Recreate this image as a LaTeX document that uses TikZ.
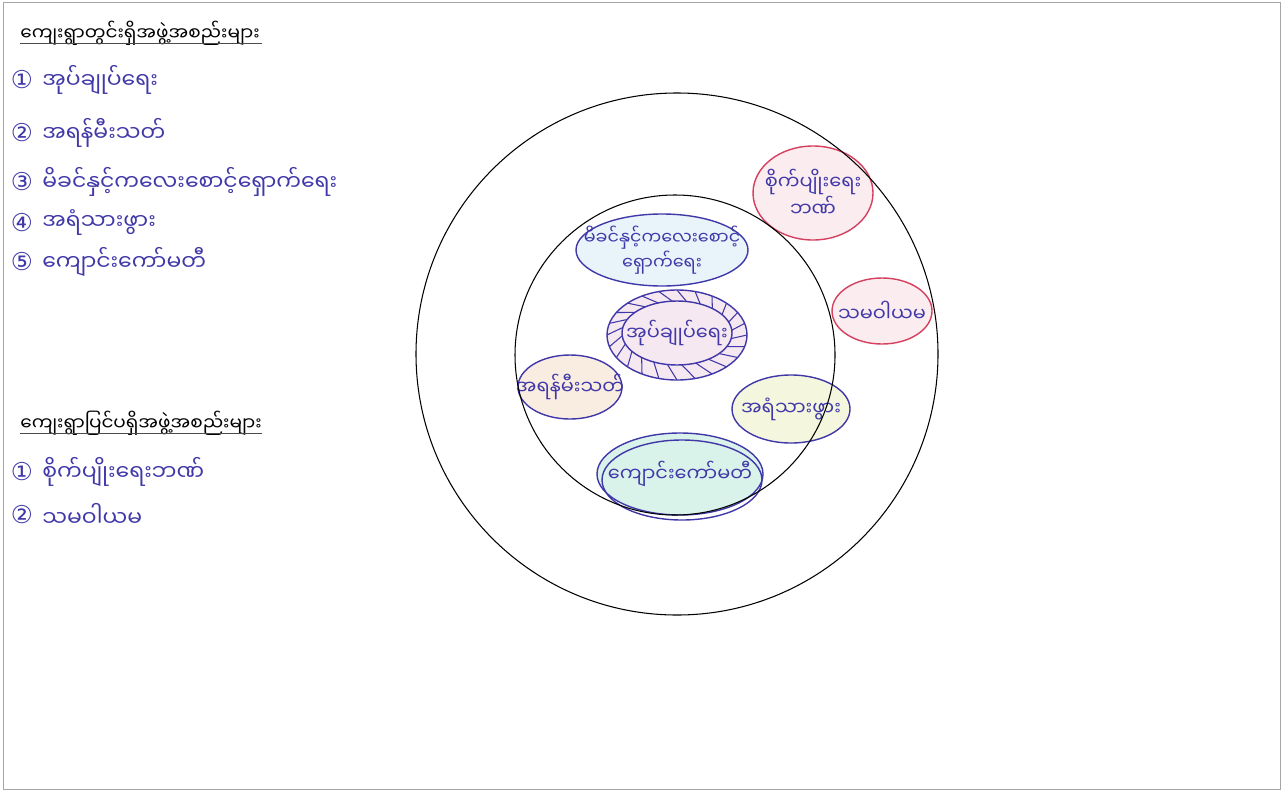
\documentclass[tikz,border=0pt]{standalone}
\usepackage{fontspec}
\newfontfamily\mmfont[Script=Myanmar]{Noto Sans Myanmar UI}
\newfontfamily\symfont{DejaVu Sans}
\usepackage{tikz}

\definecolor{ink}{HTML}{4038A8}
\definecolor{redink}{HTML}{D4405E}
\definecolor{motherfill}{HTML}{E8F4FA}
\definecolor{adminfill}{HTML}{F6E8F0}
\definecolor{firefill}{HTML}{F9ECE0}
\definecolor{midwifefill}{HTML}{F4F7DD}
\definecolor{schoolfill}{HTML}{D9F3EA}
\definecolor{bankfill}{HTML}{FBECEF}

\begin{document}
\begin{tikzpicture}[x=0.02cm, y=-0.02cm,
	head/.style={font=\mmfont\fontsize{10.5}{12}\selectfont, anchor=west, inner sep=0pt},
	item/.style={font=\mmfont\fontsize{12.5}{14}\selectfont, text=ink, anchor=west, inner sep=0pt},
	num/.style={font=\symfont\fontsize{14}{14}\selectfont, text=ink, inner sep=0pt},
	grp/.style={draw=ink, line width=0.8pt},
	outgrp/.style={draw=redink, line width=0.8pt},
	grplabel/.style={inner sep=0pt, align=center, text=ink, font=\mmfont\fontsize{11}{12.5}\selectfont},
	ring/.style={draw=black, line width=0.6pt}]
	\useasboundingbox (0,0) rectangle (1283,791);
	\draw[black!35] (3,2) rectangle (1280,789);
	% village groups, list
	\node[head] (inhead) at (20,33) {ကျေးရွာတွင်းရှိအဖွဲ့အစည်းများ};
	\draw[black!70] (inhead.south west) ++(0,-2) -- ++(242,0);
	\node[num] (n1) at (22,80) {①};
	\node[item] (i1) at (42,80) {အုပ်ချုပ်ရေး};
	\node[num] (n2) at (22,133) {②};
	\node[item] (i2) at (42,133) {အရန်မီးသတ်};
	\node[num] (n3) at (22,182) {③};
	\node[item] (i3) at (42,182) {မိခင်နှင့်ကလေးစောင့်ရှောက်ရေး};
	\node[num] (n4) at (22,223) {④};
	\node[item] (i4) at (42,223) {အရံသားဖွား};
	\node[num] (n5) at (22,262) {⑤};
	\node[item] (i5) at (42,262) {ကျောင်းကော်မတီ};
	% outside groups, list
	\node[head] (outhead) at (20,423) {ကျေးရွာပြင်ပရှိအဖွဲ့အစည်းများ};
	\draw[black!70] (outhead.south west) ++(0,-2) -- ++(242,0);
	\node[num] (m1) at (22,472) {①};
	\node[item] (j1) at (42,472) {စိုက်ပျိုးရေးဘဏ်};
	\node[num] (m2) at (22,515) {②};
	\node[item] (j2) at (42,515) {သမဝါယမ};
	% venn groups
	\path[grp, fill=motherfill] (662,250) ellipse[x radius=86, y radius=36];
	\path[grp, fill=adminfill] (677,335) ellipse[x radius=70, y radius=45];
	\path[grp, fill=adminfill] (677,333) ellipse[x radius=55, y radius=32];
	\foreach \a in {0,15,...,345}
		\draw[ink, line width=0.6pt] ({677+70*cos(\a)},{335+45*sin(\a)})
			-- ({677+55*cos(\a+10)},{333+32*sin(\a+10)});
	\path[grp, fill=firefill] (570,387) ellipse[x radius=52, y radius=32];
	\path[grp, fill=midwifefill] (791,409) ellipse[x radius=59, y radius=34];
	\path[grp, fill=schoolfill] (680,474) ellipse[x radius=83, y radius=41];
	\path[grp] (682,480) ellipse[x radius=80, y radius=40];
	\path[outgrp, fill=bankfill] (813,193) ellipse[x radius=60, y radius=47];
	\path[outgrp, fill=bankfill] (882,311) ellipse[x radius=50, y radius=33];
	\node[grplabel, font=\mmfont\fontsize{10}{13}\selectfont] (mother) at (662,250)
		{မိခင်နှင့်ကလေးစောင့်\\ရှောက်ရေး};
	\node[grplabel] (admin) at (677,333) {အုပ်ချုပ်ရေး};
	\node[grplabel] (fire) at (570,387) {အရန်မီးသတ်};
	\node[grplabel] (midwife) at (791,409) {အရံသားဖွား};
	\node[grplabel] (school) at (680,474) {ကျောင်းကော်မတီ};
	\node[grplabel] (bank) at (813,193) {စိုက်ပျိုးရေး\\ဘဏ်};
	\node[grplabel] (coop) at (882,311) {သမဝါယမ};
	% village rings
	\draw[ring] (677,354) circle[radius=261];
	\draw[ring] (675,355) circle[radius=160];
\end{tikzpicture}
\end{document}
